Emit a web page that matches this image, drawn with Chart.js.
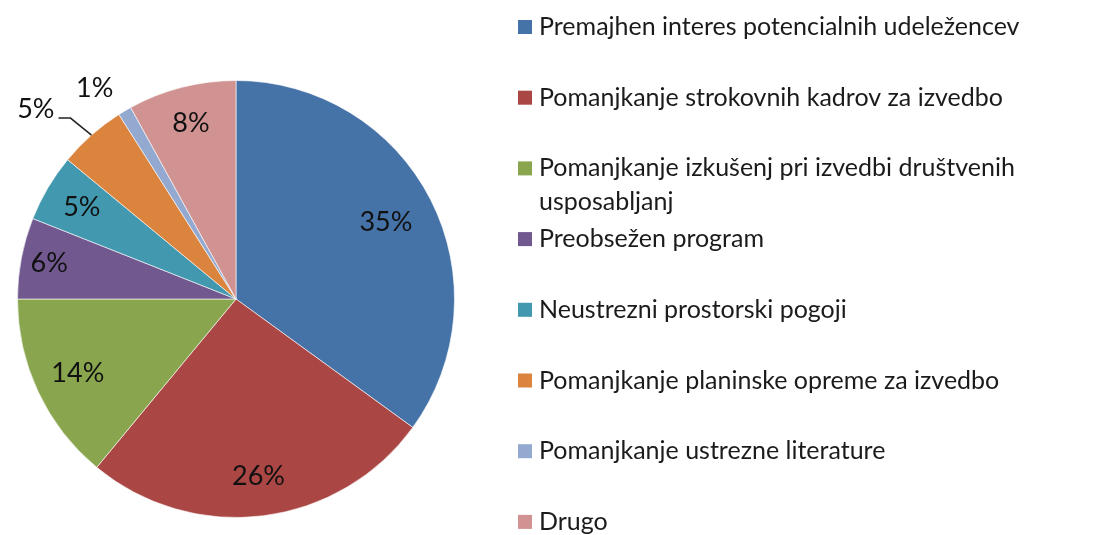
<!DOCTYPE html>
<html>
<head>
<meta charset="utf-8">
<script src="https://cdn.jsdelivr.net/npm/chart.js@4"></script>
<style>
  html, body { margin: 0; padding: 0; background: #fff; }
  #wrap { width: 1114px; height: 535px; position: relative; }
</style>
</head>
<body>
<div id="wrap"><canvas id="pie-chart"></canvas></div>
<script>
const categories = [
  'Premajhen interes potencialnih udeležencev',
  'Pomanjkanje strokovnih kadrov za izvedbo',
  'Pomanjkanje izkušenj pri izvedbi društvenih usposabljanj',
  'Preobsežen program',
  'Neustrezni prostorski pogoji',
  'Pomanjkanje planinske opreme za izvedbo',
  'Pomanjkanje ustrezne literature',
  'Drugo'
];
const shares = [35, 26, 14, 6, 5, 5, 1, 8];

const sliceColors = ['#4572A7', '#AA4643', '#89A54E', '#71588F', '#4198AF', '#DB843D', '#93A9CF', '#D19392'];

const FONT = 'Lato, "Open Sans", sans-serif';

// where each percent label sits, as a fraction of the radius (inside labels)
const insideLabels = { 0: 0.77, 1: 0.82, 2: 0.8, 3: 0.87, 4: 0.82, 7: 0.83 };

const percentLabels = {
  id: 'percentLabels',
  afterDatasetsDraw(chart) {
    const ctx = chart.ctx;
    const meta = chart.getDatasetMeta(0);
    const total = shares.reduce((a, b) => a + b, 0);
    ctx.save();
    ctx.fillStyle = '#111';
    ctx.font = '27px ' + FONT;
    ctx.textBaseline = 'middle';
    meta.data.forEach((arc, i) => {
      const { x, y, startAngle, endAngle, outerRadius } = arc.getProps(['x', 'y', 'startAngle', 'endAngle', 'outerRadius'], true);
      const mid = (startAngle + endAngle) / 2;
      const cos = Math.cos(mid), sin = Math.sin(mid);
      const text = Math.round(shares[i] / total * 100) + '%';
      if (insideLabels[i] !== undefined) {
        const f = insideLabels[i] * outerRadius;
        ctx.textAlign = 'center';
        ctx.fillText(text, x + cos * f, y + sin * f);
      } else if (i === 5) {
        // label with leader line
        const ex = x + cos * outerRadius, ey = y + sin * outerRadius;
        const kx = ex - 21, ky = ey - 17;
        ctx.strokeStyle = '#222';
        ctx.lineWidth = 1.5;
        ctx.beginPath();
        ctx.moveTo(ex, ey);
        ctx.lineTo(kx, ky);
        ctx.lineTo(kx - 12, ky);
        ctx.stroke();
        ctx.textAlign = 'right';
        ctx.fillText(text, kx - 16, ky - 9);
      } else {
        const ex = x + cos * outerRadius, ey = y + sin * outerRadius;
        ctx.textAlign = 'center';
        ctx.fillText(text, ex - 30, ey - 23);
      }
    });
    ctx.restore();
  }
};

const sideLegend = {
  id: 'sideLegend',
  afterDraw(chart) {
    const ctx = chart.ctx;
    const left = 518, top = 27, step = 70.7, box = 14, lineH = 34;
    const maxW = 1114 - left - box - 10;
    ctx.save();
    ctx.font = '25px ' + FONT;
    ctx.textBaseline = 'middle';
    ctx.textAlign = 'left';
    categories.forEach((label, i) => {
      const cy = top + i * step;
      ctx.fillStyle = sliceColors[i];
      ctx.fillRect(left, cy - box / 2, box, box);
      // simple word wrap
      const words = label.split(' ');
      const lines = [];
      let line = '';
      words.forEach(w => {
        const test = line ? line + ' ' + w : w;
        if (ctx.measureText(test).width > maxW && line) {
          lines.push(line);
          line = w;
        } else {
          line = test;
        }
      });
      lines.push(line);
      ctx.fillStyle = '#1b1b1b';
      lines.forEach((l, j) => ctx.fillText(l, left + box + 7, cy + j * lineH));
    });
    ctx.restore();
  }
};

new Chart(document.getElementById('pie-chart'), {
  type: 'pie',
  data: {
    labels: categories,
    datasets: [{
      data: shares,
      backgroundColor: sliceColors,
      borderColor: 'rgba(255,255,255,0.6)',
      borderWidth: 1
    }]
  },
  options: {
    responsive: true,
    maintainAspectRatio: false,
    animation: false,
    layout: { padding: { left: 17, right: 659, top: 80, bottom: 17 } },
    plugins: {
      legend: { display: false },
      tooltip: { enabled: false }
    }
  },
  plugins: [percentLabels, sideLegend]
});
</script>
</body>
</html>
